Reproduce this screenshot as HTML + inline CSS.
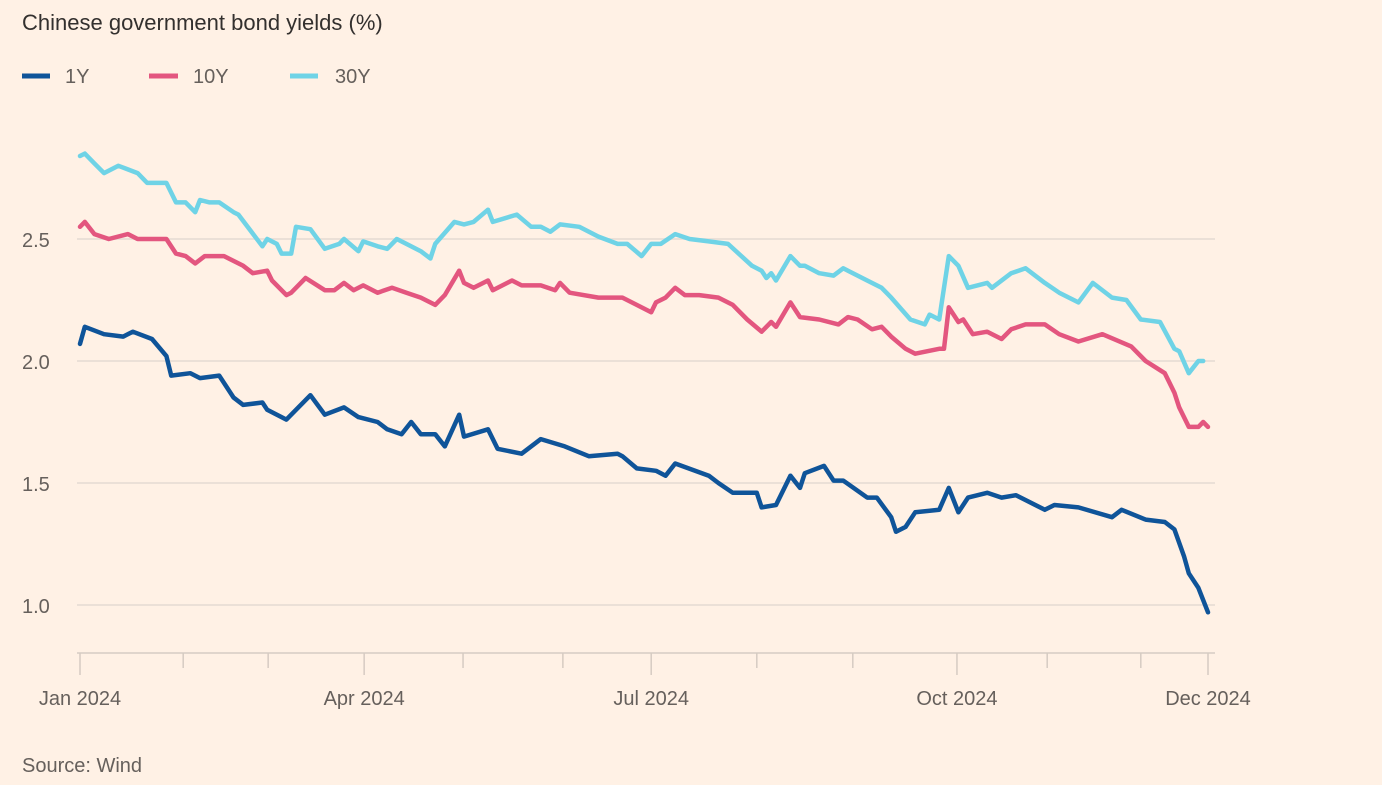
<!DOCTYPE html>
<html><head><meta charset="utf-8"><style>
body{margin:0;background:#fff1e5;width:1382px;height:785px;overflow:hidden;font-family:"Liberation Sans",sans-serif;}
svg{display:block}
</style></head><body>
<svg id="chart" width="1382" height="785" viewBox="0 0 1382 785">
<rect width="1382" height="785" fill="#fff1e5"/>
<text x="22" y="30" font-size="22" fill="#33302e">Chinese government bond yields (%)</text>
<g>
<g><line x1="22" y1="76" x2="50" y2="76" stroke="#0f5499" stroke-width="5"/><text x="65" y="83" font-size="20" fill="#66605c">1Y</text></g>
<g><line x1="149" y1="76" x2="178" y2="76" stroke="#e3567f" stroke-width="5"/><text x="193" y="83" font-size="20" fill="#66605c">10Y</text></g>
<g><line x1="290" y1="76" x2="318" y2="76" stroke="#6fd3e6" stroke-width="5"/><text x="335" y="83" font-size="20" fill="#66605c">30Y</text></g>
</g>
<g id="grid"></g><g id="axis"></g><g id="lines"></g>
<text x="22" y="772" font-size="20" fill="#66605c">Source: Wind</text>
</svg>
<script>
const yTicks=[1.0,1.5,2.0,2.5];
const xTickDays=[0,21.5,39.2,59.2,79.8,100.6,119,141,161,182.7,201.5,221,235];
const xMajorDays=[0,59.2,119,182.7,235];
const xMajorLabels=["Jan 2024","Apr 2024","Jul 2024","Oct 2024","Dec 2024"];
const days1Y=[0,1,5,9,11,15,18,19,23,25,29,32,34,38,39,43,48,51,55,58,62,64,67,69,71,74,76,79,80,85,87,92,96,101,106,112,113,116,120,122,124,131,133,136,141,142,145,148,150,151,155,157,159,164,166,169,170,172,174,179,181,183,185,189,192,195,201,203,208,215,217,222,226,228,230,231,233,235];
const vals1Y=[2.07,2.14,2.11,2.10,2.12,2.09,2.02,1.94,1.95,1.93,1.94,1.85,1.82,1.83,1.80,1.76,1.86,1.78,1.81,1.77,1.75,1.72,1.70,1.75,1.70,1.70,1.65,1.78,1.69,1.72,1.64,1.62,1.68,1.65,1.61,1.62,1.61,1.56,1.55,1.53,1.58,1.53,1.50,1.46,1.46,1.40,1.41,1.53,1.48,1.54,1.57,1.51,1.51,1.44,1.44,1.36,1.30,1.32,1.38,1.39,1.48,1.38,1.44,1.46,1.44,1.45,1.39,1.41,1.40,1.36,1.39,1.35,1.34,1.31,1.20,1.13,1.07,0.97];
const days10Y=[0,1,3,6,10,12,18,20,22,24,26,30,34,36,39,40,43,44,47,51,53,55,57,59,62,65,68,71,74,76,79,80,82,85,86,90,92,96,99,100,102,108,113,119,120,122,124,126,129,133,136,139,142,144,145,148,150,154,158,160,162,165,167,169,172,174,179,180,181,183,184,186,189,192,194,197,201,204,208,213,219,222,226,228,229,231,233,234,235];
const vals10Y=[2.55,2.57,2.52,2.50,2.52,2.50,2.50,2.44,2.43,2.40,2.43,2.43,2.39,2.36,2.37,2.33,2.27,2.28,2.34,2.29,2.29,2.32,2.29,2.31,2.28,2.30,2.28,2.26,2.23,2.27,2.37,2.32,2.30,2.33,2.29,2.33,2.31,2.31,2.29,2.32,2.28,2.26,2.26,2.20,2.24,2.26,2.30,2.27,2.27,2.26,2.23,2.17,2.12,2.16,2.14,2.24,2.18,2.17,2.15,2.18,2.17,2.13,2.14,2.10,2.05,2.03,2.05,2.05,2.22,2.16,2.17,2.11,2.12,2.09,2.13,2.15,2.15,2.11,2.08,2.11,2.06,2.00,1.95,1.87,1.81,1.73,1.73,1.75,1.73];
const days30Y=[0,1,3,5,8,12,14,18,20,22,24,25,27,29,32,33,38,39,41,42,44,45,48,51,54,55,58,59,62,64,66,68,71,73,74,78,80,82,85,86,91,94,96,98,100,104,108,112,114,117,119,121,124,127,131,135,140,142,143,144,145,148,150,151,154,157,159,160,164,167,169,173,176,177,179,181,183,185,189,190,194,197,201,204,208,211,215,218,221,225,228,229,231,233,234];
const vals30Y=[2.84,2.85,2.81,2.77,2.80,2.77,2.73,2.73,2.65,2.65,2.61,2.66,2.65,2.65,2.61,2.60,2.47,2.50,2.48,2.44,2.44,2.55,2.54,2.46,2.48,2.50,2.45,2.49,2.47,2.46,2.50,2.48,2.45,2.42,2.48,2.57,2.56,2.57,2.62,2.57,2.60,2.55,2.55,2.53,2.56,2.55,2.51,2.48,2.48,2.43,2.48,2.48,2.52,2.50,2.49,2.48,2.39,2.37,2.34,2.36,2.33,2.43,2.39,2.39,2.36,2.35,2.38,2.37,2.33,2.30,2.26,2.17,2.15,2.19,2.17,2.43,2.39,2.30,2.32,2.30,2.36,2.38,2.32,2.28,2.24,2.32,2.26,2.25,2.17,2.16,2.05,2.04,1.95,2.00,2.00];

const NS="http://www.w3.org/2000/svg";
function xScale(d){return 80+d*(1208-80)/235;}
function yScale(v){return 361-(v-2.0)*244;}
const grid=document.getElementById('grid'),axis=document.getElementById('axis'),lines=document.getElementById('lines');
function mk(tag,attrs,parent){const e=document.createElementNS(NS,tag);for(const k in attrs)e.setAttribute(k,attrs[k]);parent.appendChild(e);return e;}
yTicks.forEach(v=>{
  const l=mk('line',{x1:77,x2:1215,y1:yScale(v),y2:yScale(v),stroke:'#ebe0d7','stroke-width':2},grid);
  
  
  const t=mk('text',{x:22,y:yScale(v)+8,'font-size':20,fill:'#66605c'},grid);
  t.textContent=v.toFixed(1);
  
  
});
const al=mk('line',{x1:77,x2:1215,y1:653,y2:653,stroke:'#e0d5cc','stroke-width':2},axis);


xTickDays.forEach(d=>{
  const major=xMajorDays.includes(d);
  const t=mk('line',{x1:xScale(d),x2:xScale(d),y1:653,y2:major?675:668,stroke:'#d6cbc2','stroke-width':1.5},axis);
  
  
});
xMajorDays.forEach((d,i)=>{
  const t=mk('text',{x:xScale(d),y:705,'font-size':20,fill:'#66605c','text-anchor':'middle'},axis);
  t.textContent=xMajorLabels[i];
  
  
});
function drawLine(days,vals,color,name){
  const d=days.map((dd,i)=>(i?'L':'M')+xScale(dd).toFixed(1)+','+yScale(vals[i]).toFixed(1)).join('');
  const p=mk('path',{d:d,fill:'none',stroke:color,'stroke-width':4.5,'stroke-linejoin':'round','stroke-linecap':'round'},lines);
  
  
}
drawLine(days30Y,vals30Y,'#6fd3e6','line-30y');
drawLine(days10Y,vals10Y,'#e3567f','line-10y');
drawLine(days1Y,vals1Y,'#0f5499','line-1y');
</script>
</body></html>
